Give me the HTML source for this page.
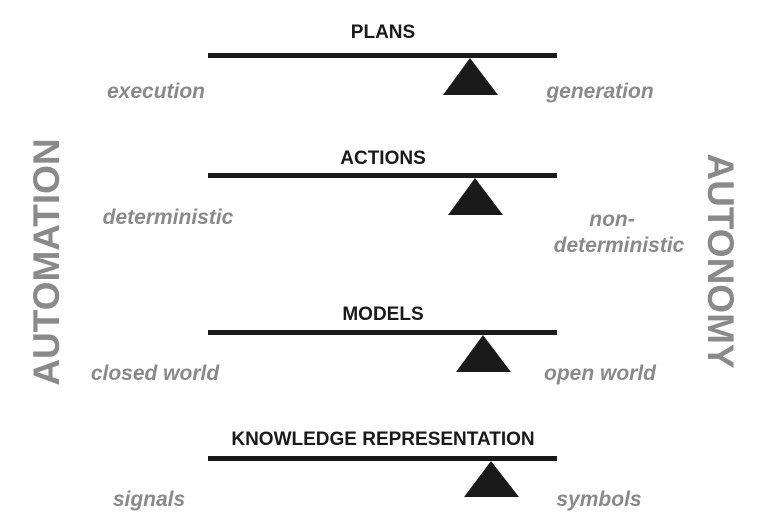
<!DOCTYPE html>
<html><head><style>
body{margin:0;width:764px;height:514px;background:#fff;overflow:hidden;font-family:"Liberation Sans",sans-serif}
</style></head><body>
<svg width="764" height="514" xmlns="http://www.w3.org/2000/svg" font-family="Liberation Sans, sans-serif">
<g fill="#1a1a1a">
<rect x="208" y="53" width="349" height="5"/>
<polygon points="470,58 443,95 498,95"/>
<rect x="208" y="173" width="349" height="5"/>
<polygon points="475,178 448,215 503,215"/>
<rect x="208" y="330" width="349" height="5"/>
<polygon points="483,335 456,372 511,372"/>
<rect x="208" y="456" width="349" height="5"/>
<polygon points="491,461 464,497 519,497"/>
</g>
<g fill="#1a1a1a" font-weight="bold" font-size="19" text-anchor="middle">
<text x="383" y="38">PLANS</text>
<text x="383" y="164">ACTIONS</text>
<text x="383" y="320">MODELS</text>
<text x="383" y="445">KNOWLEDGE REPRESENTATION</text>
</g>
<g fill="#8a8a8a" font-weight="bold" font-style="italic" font-size="21" text-anchor="middle">
<text x="156" y="98">execution</text>
<text x="600" y="98">generation</text>
<text x="168" y="224">deterministic</text>
<text x="612" y="226">non-</text>
<text x="619" y="252">deterministic</text>
<text x="155" y="380">closed world</text>
<text x="600" y="380">open world</text>
<text x="149" y="506">signals</text>
<text x="599" y="506">symbols</text>
</g>
<g fill="#8a8a8a" font-weight="bold" font-size="37" text-anchor="middle">
<text transform="translate(59,262) rotate(-90)">AUTOMATION</text>
<text transform="translate(708,261) rotate(90)">AUTONOMY</text>
</g>
</svg>
</body></html>
